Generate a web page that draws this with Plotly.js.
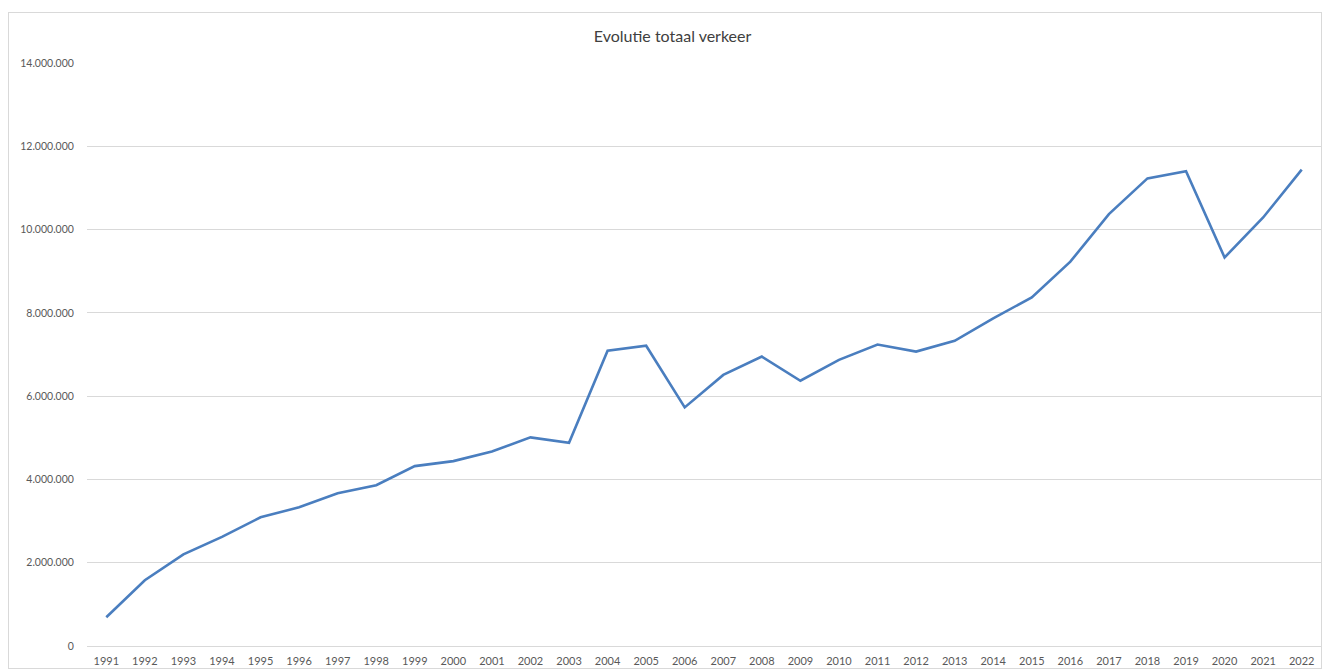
<!DOCTYPE html>
<html>
<head>
<meta charset="utf-8">
<script src="https://cdn.plot.ly/plotly-3.0.1.min.js"></script>
<style>
  html, body { margin: 0; padding: 0; background: #fff; }
  #wrap { position: relative; width: 1324px; height: 670px; }
  #chart { position: absolute; left: 0; top: 0; width: 1324px; height: 670px; }
  #frame { position: absolute; left: 8px; top: 12px; width: 1312px; height: 655px;
           border: 1px solid #d9d9d9; pointer-events: none; }
</style>
</head>
<body>
<div id="wrap">
  <div id="chart"></div>
  <div id="frame"></div>
</div>
<script>
const years = ['1991','1992','1993','1994','1995','1996','1997','1998','1999','2000',
               '2001','2002','2003','2004','2005','2006','2007','2008','2009','2010',
               '2011','2012','2013','2014','2015','2016','2017','2018','2019','2020',
               '2021','2022'];
const totaalVerkeer = [690000, 1580000, 2200000, 2620000, 3090000, 3330000, 3670000, 3860000, 4320000, 4440000,
                       4670000, 5010000, 4880000, 7090000, 7210000, 5730000, 6510000, 6950000, 6370000, 6870000,
                       7240000, 7070000, 7330000, 7870000, 8370000, 9230000, 10370000, 11230000, 11400000, 9330000,
                       10290000, 11440000];
const chartTitle = 'Evolutie totaal verkeer';

const trace = {
  x: years,
  y: totaalVerkeer,
  type: 'scatter',
  mode: 'lines',
  line: { color: '#4a7ebf', width: 2.6 },
  hoverinfo: 'x+y'
};

const layout = {
  width: 1324,
  height: 670,
  margin: { l: 87, r: 3, t: 63, b: 24 },
  paper_bgcolor: '#ffffff',
  plot_bgcolor: '#ffffff',
  separators: ',.',
  showlegend: false,
  title: {
    text: chartTitle,
    font: { family: 'Lato, "Open Sans", sans-serif', size: 16, color: '#404040' },
    x: 0.508, xanchor: 'center',
    y: 0.945, yanchor: 'middle'
  },
  xaxis: {
    type: 'category',
    range: [-0.5, years.length - 0.5],
    showgrid: false,
    showline: false,
    zeroline: false,
    ticks: 'outside',
    ticklen: 5,
    tickcolor: 'rgba(0,0,0,0)',
    tickfont: { family: 'Lato, "Open Sans", sans-serif', size: 11, color: '#595959' }
  },
  yaxis: {
    range: [0, 14000000],
    dtick: 2000000,
    tick0: 0,
    tickformat: ',d',
    showgrid: true,
    gridcolor: '#d9d9d9',
    gridwidth: 1,
    zeroline: true,
    zerolinecolor: '#d9d9d9',
    zerolinewidth: 1,
    showline: false,
    ticks: 'outside',
    ticklen: 10,
    tickcolor: 'rgba(0,0,0,0)',
    tickfont: { family: 'Lato, "Open Sans", sans-serif', size: 10.5, color: '#595959' }
  }
};

Plotly.newPlot('chart', [trace], layout, { displayModeBar: false, staticPlot: true });
</script>
</body>
</html>
